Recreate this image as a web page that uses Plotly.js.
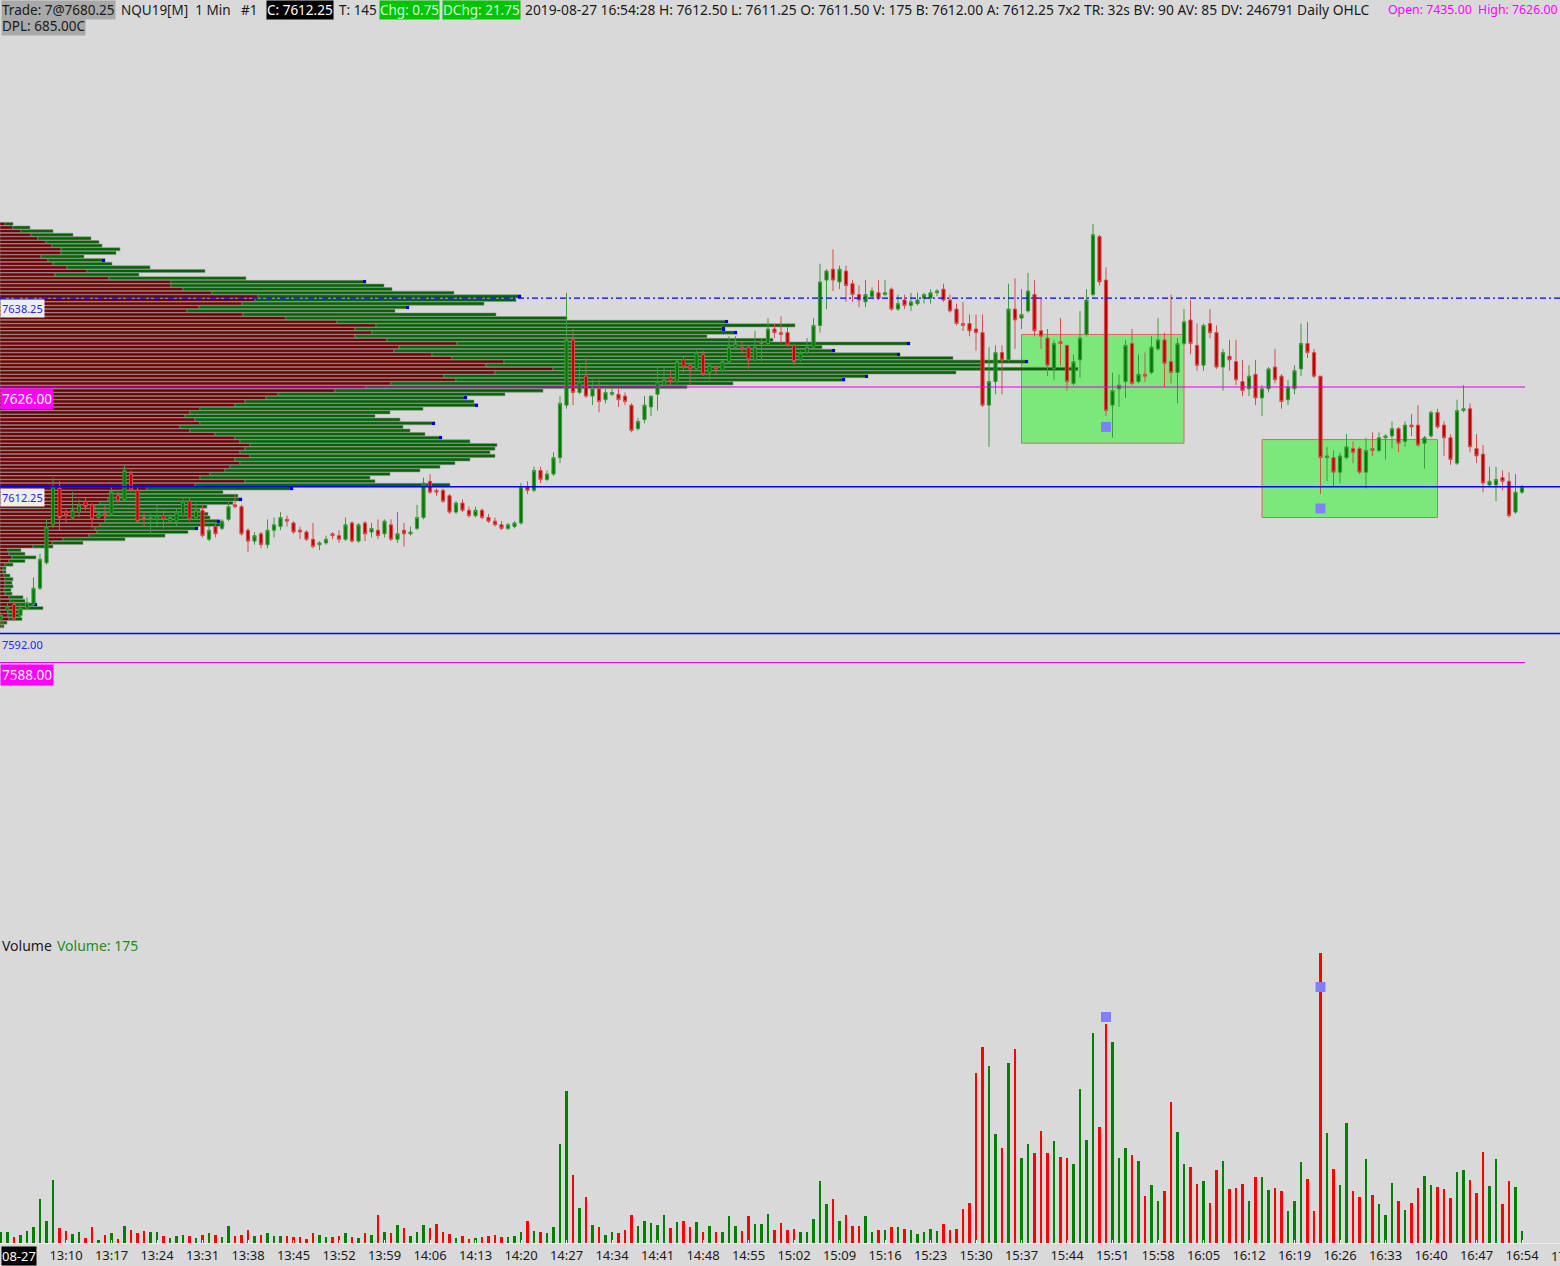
<!DOCTYPE html>
<html>
<head>
<meta charset="utf-8">
<script src="https://cdn.plot.ly/plotly-3.0.1.min.js"></script>
<style>
html,body{margin:0;padding:0;background:#d9d9d9;overflow:hidden;}
#chart{width:1560px;height:1266px;}
</style>
</head>
<body>
<div id="chart"></div>
<script>
// ===================== DATA =====================
const sessionDate = "08-27";
const sessionStart = "13:00";   // time of the first 1-minute bar

const barOpen = [
7594.0,7595.25,7596.0,7594.5,7595.5,7596.0,7598.25,7601.75,7607.0,7612.0,
7608.75,7608.0,7608.75,7610.25,7609.75,7608.0,7608.5,7608.5,7611.0,7610.5,
7614.0,7611.75,7608.0,7607.75,7607.75,7608.25,7607.5,7607.5,7608.25,7610.25,
7608.0,7609.0,7605.0,7606.75,7606.5,7607.75,7609.75,7609.5,7606.25,7604.75,
7605.75,7604.25,7606.25,7606.75,7607.75,7607.25,7606.25,7606.0,7605.0,7604.25,
7604.5,7605.75,7605.5,7605.0,7607.25,7604.75,7607.25,7606.0,7606.25,7605.75,
7607.0,7605.0,7606.25,7605.75,7606.5,7608.0,7613.0,7611.75,7611.75,7611.0,
7608.75,7610.0,7609.0,7608.25,7609.0,7608.0,7607.5,7607.0,7606.5,7606.75,
7607.25,7612.25,7611.75,7614.5,7613.25,7614.0,7616.25,7623.5,7632.5,7625.25,
7627.5,7624.75,7625.75,7624.25,7625.0,7625.0,7624.75,7623.5,7620.25,7621.5,
7623.25,7625.0,7626.25,7627.25,7626.75,7629.75,7629.0,7628.5,7630.5,7628.0,
7628.75,7628.25,7629.5,7631.5,7631.5,7631.5,7629.75,7632.0,7632.0,7634.0,
7633.5,7633.5,7631.75,7629.75,7630.75,7631.5,7634.5,7640.75,7642.25,7640.5,
7642.0,7640.25,7638.75,7637.75,7638.5,7639.0,7638.75,7639.5,7636.75,7638.0,
7637.25,7637.5,7638.25,7638.25,7639.0,7639.5,7638.0,7636.75,7634.75,7634.75,
7634.0,7633.5,7623.5,7626.75,7630.75,7629.75,7636.75,7635.5,7636.5,7638.75,
7633.75,7632.75,7628.5,7632.25,7631.75,7626.5,7629.75,7633.25,7638.75,7646.75,
7640.75,7623.5,7625.75,7626.75,7632.0,7626.75,7627.75,7628.0,7631.25,7632.5,
7629.5,7628.0,7632.0,7635.25,7631.75,7629.0,7634.75,7633.5,7628.75,7630.25,
7629.5,7626.75,7625.75,7627.75,7624.5,7625.75,7628.75,7627.5,7624.25,7625.75,
7628.5,7632.0,7630.75,7627.5,7616.25,7616.25,7614.25,7616.25,7617.5,7617.5,
7614.25,7617.5,7617.25,7619.0,7619.25,7620.25,7618.5,7620.75,7620.75,7618.25,
7619.25,7622.5,7620.75,7619.0,7615.5,7622.75,7623.0,7617.5,7616.75,7612.5,
7612.5,7613.5,7613.0,7608.75,7611.5];
const barHigh = [
7594.75,7596.25,7596.5,7596.0,7597.0,7599.75,7603.0,7607.75,7613.5,7613.0,
7609.25,7611.5,7610.5,7610.75,7610.0,7609.0,7609.75,7612.25,7611.5,7615.25,
7614.5,7612.25,7608.75,7608.5,7609.75,7609.0,7608.5,7609.25,7610.75,7610.75,
7610.0,7609.75,7606.75,7607.25,7607.75,7610.25,7611.25,7609.75,7606.5,7606.0,
7606.0,7607.75,7608.0,7608.75,7608.25,7607.5,7606.75,7606.25,7607.25,7604.75,
7605.5,7606.0,7606.25,7608.0,7607.5,7607.25,7607.5,7607.25,7607.75,7607.75,
7607.75,7608.75,7607.25,7606.75,7609.75,7613.5,7614.0,7612.0,7612.0,7611.25,
7610.25,7610.5,7609.5,7609.5,7609.25,7608.5,7608.0,7607.5,7607.25,7607.5,
7612.75,7613.0,7615.0,7615.0,7614.5,7617.0,7624.75,7639.0,7634.0,7629.25,
7630.0,7627.0,7627.0,7625.75,7626.0,7625.75,7625.25,7623.75,7621.75,7624.75,
7624.75,7628.75,7628.75,7628.25,7629.75,7630.25,7629.25,7631.0,7631.0,7629.25,
7629.0,7629.75,7633.0,7633.0,7632.25,7631.75,7633.75,7632.75,7635.5,7634.75,
7635.75,7634.25,7632.0,7631.0,7632.75,7635.5,7643.0,7642.25,7645.0,7642.75,
7642.75,7640.75,7640.0,7640.75,7639.75,7640.75,7640.75,7639.75,7638.75,7638.75,
7639.0,7639.0,7639.0,7639.5,7639.5,7640.25,7638.75,7637.5,7637.75,7636.0,
7636.0,7636.0,7631.5,7631.75,7631.75,7640.25,7641.0,7639.5,7641.75,7640.75,
7638.25,7634.0,7632.5,7635.5,7631.75,7630.5,7636.5,7639.5,7648.5,7647.0,
7642.5,7628.0,7627.75,7632.5,7634.0,7630.5,7630.75,7633.0,7635.5,7633.5,
7638.75,7632.75,7636.75,7638.0,7634.75,7634.75,7636.75,7634.5,7631.25,7632.5,
7632.5,7629.75,7629.0,7629.75,7626.25,7628.75,7631.25,7627.75,7627.0,7629.0,
7634.75,7635.0,7631.25,7627.5,7617.75,7617.25,7617.0,7619.5,7618.5,7617.75,
7619.0,7619.75,7619.75,7619.5,7621.25,7620.5,7621.25,7622.25,7623.5,7619.25,
7622.75,7623.0,7621.25,7619.5,7624.25,7626.25,7623.75,7619.5,7618.0,7615.0,
7615.0,7614.5,7614.25,7614.0,7612.5];
const barLow = [
7593.0,7594.75,7593.75,7594.25,7595.25,7595.75,7598.0,7601.5,7606.5,7606.25,
7607.25,7607.75,7608.0,7609.0,7606.5,7607.75,7607.75,7608.25,7610.0,7610.25,
7611.5,7607.25,7606.75,7605.75,7606.75,7606.5,7607.25,7606.75,7608.0,7607.5,
7607.75,7605.25,7604.75,7605.25,7606.25,7607.5,7609.25,7605.5,7603.25,7604.25,
7603.75,7603.75,7605.25,7606.25,7606.75,7605.75,7605.0,7604.75,7603.75,7603.5,
7604.25,7605.0,7604.5,7604.75,7604.5,7604.5,7604.75,7605.25,7605.0,7605.25,
7604.75,7604.5,7604.0,7605.5,7606.25,7607.75,7611.25,7611.0,7610.0,7608.5,
7608.5,7608.75,7608.0,7608.0,7607.75,7607.25,7606.75,7606.25,7606.25,7606.5,
7607.0,7611.25,7611.5,7612.75,7613.0,7613.75,7615.5,7623.0,7623.5,7625.0,
7624.5,7623.5,7622.5,7623.75,7624.75,7623.25,7623.5,7619.75,7620.0,7621.0,
7622.0,7622.75,7626.0,7626.25,7626.5,7628.0,7626.25,7628.25,7627.5,7627.0,
7627.75,7628.0,7629.25,7631.25,7630.5,7628.5,7629.5,7629.5,7631.75,7632.75,
7632.0,7631.5,7629.0,7629.5,7630.5,7631.25,7633.5,7636.75,7639.25,7639.5,
7637.75,7637.75,7637.0,7637.0,7638.25,7638.0,7638.5,7636.5,7636.5,7636.75,
7636.5,7637.25,7637.5,7637.5,7638.5,7637.75,7636.25,7634.5,7633.75,7633.0,
7631.0,7623.25,7617.75,7625.0,7625.0,7629.5,7631.25,7634.0,7636.25,7633.0,
7631.25,7627.5,7627.0,7629.0,7625.5,7626.25,7627.25,7633.0,7638.5,7640.0,
7622.0,7619.0,7623.25,7624.5,7626.25,7626.5,7626.75,7627.75,7631.0,7626.0,
7626.5,7623.75,7631.75,7630.5,7628.25,7628.25,7632.75,7628.5,7625.5,7628.25,
7626.25,7624.75,7624.75,7623.5,7622.0,7625.25,7626.5,7623.0,7623.5,7625.0,
7627.5,7630.0,7627.25,7611.25,7613.0,7612.25,7612.75,7616.0,7615.5,7614.0,
7612.0,7616.5,7617.0,7616.0,7617.5,7617.0,7617.75,7619.25,7617.75,7614.75,
7619.0,7620.25,7616.5,7615.25,7615.25,7622.5,7617.0,7615.5,7611.5,7612.25,
7610.25,7611.75,7608.0,7608.5,7611.25];
const barClose = [
7594.5,7595.75,7594.0,7595.5,7596.25,7598.25,7602.25,7606.75,7612.25,7608.0,
7608.25,7609.0,7609.75,7609.5,7607.75,7608.5,7608.25,7611.5,7610.25,7614.5,
7611.75,7607.5,7607.75,7608.0,7608.25,7607.75,7608.0,7608.75,7610.25,7607.75,
7609.0,7605.5,7606.25,7605.75,7607.5,7609.5,7609.5,7605.75,7604.75,7605.5,
7604.25,7606.25,7607.0,7608.0,7607.5,7606.0,7606.0,7605.0,7604.0,7604.5,
7605.0,7605.5,7605.0,7607.0,7604.75,7607.0,7605.75,7606.5,7605.5,7607.5,
7605.0,7605.75,7605.75,7606.0,7608.0,7612.75,7611.5,7611.5,7610.25,7608.75,
7610.0,7609.0,7608.25,7609.0,7608.0,7607.5,7607.0,7606.5,7607.0,7607.25,
7612.25,7611.75,7614.5,7613.25,7614.0,7616.25,7623.75,7632.5,7625.25,7626.75,
7624.75,7625.75,7624.0,7625.25,7625.25,7624.25,7624.0,7620.0,7621.25,7623.5,
7624.75,7626.75,7627.0,7626.75,7629.5,7628.75,7628.5,7630.75,7627.75,7629.0,
7628.5,7629.5,7631.5,7632.0,7631.25,7629.75,7631.5,7632.25,7634.0,7633.5,
7633.25,7631.75,7629.5,7630.75,7631.5,7634.5,7640.5,7642.0,7640.75,7642.25,
7640.0,7638.75,7638.0,7638.75,7639.25,7638.25,7639.0,7636.75,7637.5,7637.25,
7637.75,7638.0,7638.75,7639.0,7639.25,7638.0,7636.5,7634.75,7634.5,7633.75,
7633.5,7623.5,7626.75,7630.75,7629.75,7636.75,7635.25,7636.0,7639.25,7633.75,
7633.0,7629.0,7632.0,7632.0,7626.75,7629.5,7632.75,7638.0,7647.0,7640.5,
7622.75,7625.5,7626.25,7631.75,7626.5,7627.75,7627.5,7631.5,7632.5,7629.25,
7628.0,7632.0,7635.0,7632.0,7629.0,7634.5,7633.5,7628.75,7630.75,7629.75,
7627.0,7625.5,7627.5,7624.5,7625.75,7628.5,7627.0,7624.0,7626.0,7628.25,
7632.0,7630.75,7627.5,7616.25,7616.5,7614.25,7616.5,7617.75,7617.0,7614.25,
7617.25,7617.25,7619.0,7619.25,7620.25,7618.25,7620.75,7620.5,7618.0,7619.0,
7622.5,7620.5,7619.0,7616.0,7622.75,7623.0,7617.75,7616.5,7612.75,7613.0,
7613.25,7613.0,7608.25,7611.5,7612.25];
const barVolume = [
165,165,85,120,180,240,655,325,945,225,
180,135,165,75,235,45,120,150,60,255,
195,150,175,165,165,105,75,100,120,105,
75,120,150,115,85,255,105,120,190,100,
120,150,105,100,105,85,90,60,150,120,
90,85,105,145,90,75,145,120,420,160,
150,270,220,100,165,270,225,285,160,135,
75,105,55,75,85,105,120,85,85,105,
165,330,180,165,145,235,1480,2280,1015,525,
695,265,240,120,160,150,195,420,255,330,
295,270,420,225,315,325,235,315,165,250,
160,165,405,255,180,405,280,285,435,190,
295,190,205,165,165,355,925,585,660,325,
415,250,250,405,160,195,195,240,235,210,
195,135,165,205,175,280,195,205,510,595,
2545,2940,2655,1635,1420,2695,2905,1275,1485,1345,
1680,1345,1525,1285,1270,1185,2305,1545,3150,1735,
3285,3010,1275,1425,1320,1230,705,870,625,775,
2115,1665,1185,1140,885,925,595,1095,1230,810,
825,885,630,985,990,795,820,780,475,625,
1210,960,480,4350,1650,1105,865,1795,775,685,
1255,720,580,415,900,625,490,595,820,1000,
870,835,810,675,1065,1095,945,745,1360,850,
1260,585,930,840,175];

const timeTickLabels = ["13:10","13:17","13:24","13:31","13:38","13:45","13:52","13:59",
"14:06","14:13","14:20","14:27","14:34","14:41","14:48","14:55","15:02","15:09","15:16",
"15:23","15:30","15:37","15:44","15:51","15:58","16:05","16:12","16:19","16:26","16:33",
"16:40","16:47","16:54","17:01"];

// volume-at-price profile, rows of 0.5 point from the top price downwards
const profileTopPrice = 7648.5;
const profileRowSize = 0.5;
const profileSellVolume = [
5,13,21,31,38,46,52,61,61,41,
48,53,67,87,55,109,171,171,183,212,
258,255,242,199,187,243,286,337,376,355,
372,355,387,457,399,394,432,452,504,486,
553,495,444,456,391,366,335,278,266,245,
235,200,190,185,195,200,180,190,215,235,
240,250,245,240,250,235,240,230,225,210,
200,245,195,147,110,120,108,100,95,95,
100,105,105,100,95,97,89,63,52,33,
8,9,12,9,5,3,3,4,5,5,
5,4,5,9,10,14,16,8,8,9,
3,2];
const profileBuyVolume = [
8,17,32,42,53,53,50,59,55,43,
57,59,83,118,84,137,195,213,209,242,
263,261,242,210,208,253,281,391,419,370,
365,352,386,453,423,441,468,501,524,496,
525,461,424,389,342,321,208,227,201,229,
243,223,200,190,205,235,223,220,210,207,
230,247,250,250,245,235,215,210,195,180,
170,130,255,146,113,118,134,133,112,105,
108,105,115,124,103,91,76,62,31,20,
13,16,24,16,8,3,3,6,8,7,
8,7,7,14,15,23,27,12,13,13,
4,2];
const profileMarkedPrices = [7643.5,7640.5,7638.5,7637.0,7635.0,7634.0,7633.5,7632.0,7631.0,
7630.5,7629.5,7627.5,7627.0,7624.5,7623.5,7621.0,7619.0,7612.0,7610.5,7607.5,7606.5,7596.0];

const levelPrices = [7638.25, 7626.00, 7612.25, 7592.00, 7588.00];

const zoneStartTimes = ["15:37", "16:14"];
const zoneEndTimes   = ["16:02", "16:41"];
const zoneLowPrices  = [7618.25, 7608.00];
const zoneHighPrices = [7633.25, 7618.75];

const signalTimes   = ["15:50", "16:23"];
const signalPrices  = [7620.5, 7609.25];
const signalVolumes = [3390, 3840];

// ===================== GEOMETRY / STYLE =====================
const W = 1560, H = 1266;
const FONT = "Noto Sans, DejaVu Sans, sans-serif";
const toMin = t => { const p = t.split(':').map(Number); return p[0] * 60 + p[1]; };
const startMin = toMin(sessionStart);
const minuteOf = t => toMin(t) - startMin;
const barX = barOpen.map((_, i) => i);

const PX_PER_MIN = 6.5, MIN0_PX = 1;
const timeRange = [-MIN0_PX / PX_PER_MIN, (W - MIN0_PX) / PX_PER_MIN];
const minToPx = m => MIN0_PX + m * PX_PER_MIN;

const PRICE_BOTTOM_PX = 930, CAL_PRICE = 7612.25, CAL_PX = 486.7, PX_PER_PT = 7.25;
const priceRange = [CAL_PRICE - (PRICE_BOTTOM_PX - CAL_PX) / PX_PER_PT, CAL_PRICE + CAL_PX / PX_PER_PT];

const VOL_TOP_PX = 935, VOL_BASE_PX = 1243, VOL_PER_PX = 15;
const volRange = [0, (VOL_BASE_PX - VOL_TOP_PX) * VOL_PER_PX];

const profilePrices = profileSellVolume.map((_, k) => profileTopPrice - k * profileRowSize);
const profileTotal = profileSellVolume.map((s, k) => s + profileBuyVolume[k]);
const markRow = profileMarkedPrices.map(p => Math.round((profileTopPrice - p) / profileRowSize));
const MARK_W = 3;
const ROW_H = 0.42;

const up = barClose.map((c, i) => c >= barOpen[i]);

const traces = [
  {type:'bar', orientation:'h', xaxis:'x', yaxis:'y', y:profilePrices, x:profileSellVolume, base:0,
   width:ROW_H, marker:{color:'#6e0000', line:{color:'#8f8f8f', width:0.6}}, hoverinfo:'skip'},
  {type:'bar', orientation:'h', xaxis:'x', yaxis:'y', y:profilePrices, x:profileBuyVolume, base:profileSellVolume,
   width:ROW_H, marker:{color:'#006400', line:{color:'#8f8f8f', width:0.6}}, hoverinfo:'skip'},
  {type:'bar', orientation:'h', xaxis:'x', yaxis:'y', y:profileMarkedPrices, x:profileMarkedPrices.map(() => MARK_W),
   base:markRow.map(k => profileTotal[k] - MARK_W), width:ROW_H, marker:{color:'#0000d0'}, hoverinfo:'skip'},
  {type:'candlestick', xaxis:'x2', yaxis:'y', x:barX, open:barOpen, high:barHigh, low:barLow, close:barClose,
   whiskerwidth:0,
   increasing:{line:{color:'#3f9a3f', width:1}, fillcolor:'#007a00'},
   decreasing:{line:{color:'#d25050', width:1}, fillcolor:'#c00000'},
   hoverinfo:'skip'},
  {type:'scatter', mode:'markers', xaxis:'x2', yaxis:'y', x:signalTimes.map(minuteOf), y:signalPrices,
   marker:{symbol:'square', size:10, color:'#8080ff'}, hoverinfo:'skip'},
  {type:'bar', xaxis:'x3', yaxis:'y3', x:barX, y:barVolume, width:0.32,
   marker:{color:up.map(u => u ? '#008000' : '#ff0000'), line:{width:0}}, hoverinfo:'skip'},
  {type:'scatter', mode:'markers', xaxis:'x3', yaxis:'y3', x:signalTimes.map(minuteOf), y:signalVolumes,
   marker:{symbol:'square', size:10, color:'#8080ff'}, hoverinfo:'skip'}
];

// horizontal price levels
const levelStyle = [
  {color:'#0000ff', dash:'6px,3px,2px,3px', width:1.3, end:1},
  {color:'#e000e0', dash:'solid', width:1, end:1525 / W},
  {color:'#0000ff', dash:'solid', width:1.5, end:1},
  {color:'#0000ff', dash:'solid', width:1.5, end:1},
  {color:'#e000e0', dash:'solid', width:1, end:1525 / W}
];
const levelLabelStyle = [
  {bg:'#efefef', color:'#2424ff', size:11, left:0},
  {bg:'#ff00ff', color:'#ffffff', size:13.5, left:0},
  {bg:'#efefef', color:'#2424ff', size:11, left:0},
  {bg:'rgba(0,0,0,0)', color:'#2424ff', size:11, left:0},
  {bg:'#ff00ff', color:'#ffffff', size:13.5, left:0}
];

const shapes = [];
zoneStartTimes.forEach((t, k) => shapes.push({
  type:'rect', xref:'x2', yref:'y', x0:minuteOf(t), x1:minuteOf(zoneEndTimes[k]),
  y0:zoneLowPrices[k], y1:zoneHighPrices[k], fillcolor:'#7ce87c', line:{color:'#e06464', width:1}, layer:'below'}));
levelPrices.forEach((p, k) => shapes.push({
  type:'line', xref:'paper', yref:'y', x0:0, x1:levelStyle[k].end, y0:p, y1:p,
  line:{color:levelStyle[k].color, width:levelStyle[k].width, dash:levelStyle[k].dash}, layer:'above'}));

const annotations = [];
const txt = (text, xpx, ypx, o) => annotations.push(Object.assign({
  text, xref:'paper', yref:'paper', x:xpx / W, y:1 - ypx / H, xanchor:'left', yanchor:'middle',
  showarrow:false, borderpad:0, font:{family:FONT, size:14, color:'#1a1a1a'}}, o || {}));

levelPrices.forEach((p, k) => {
  const s = levelLabelStyle[k];
  annotations.push({text:p.toFixed(2), xref:'paper', yref:'y', x:s.left / W, y:p, xanchor:'left', yanchor:'top',
    yshift:-1, showarrow:false, bgcolor:s.bg, borderpad:1, font:{family:FONT, size:s.size, color:s.color}});
});

// header (values of the last bar)
const L = barClose.length - 1;
const nb = '\u00a0';
const HY = 9.5;
const hf = c => ({family:FONT, size:13.5, color:c});
txt('Trade: 7@7680.25', 1, HY, {bgcolor:'#a9a9a9', font:hf('#1a1a1a')});
txt('NQU19[M]' + nb + nb + '1 Min' + nb + nb + nb + '#1', 120, HY, {font:hf('#1a1a1a')});
txt('C: ' + barClose[L].toFixed(2), 266, HY, {bgcolor:'#000000', font:hf('#ffffff')});
txt('T: 145', 338, HY, {font:hf('#1a1a1a')});
txt('Chg: 0.75', 379, HY, {bgcolor:'#00c400', font:hf('#d4ffd4')});
txt('DChg: 21.75', 442, HY, {bgcolor:'#00c400', font:hf('#d4ffd4')});
txt('2019-08-27 16:54:28 H: ' + barHigh[L].toFixed(2) + ' L: ' + barLow[L].toFixed(2) + ' O: ' + barOpen[L].toFixed(2) +
    ' V: ' + barVolume[L] + ' B: 7612.00 A: 7612.25 7x2 TR: 32s BV: 90 AV: 85 DV: 246791 Daily OHLC', 524, HY,
    {font:{family:FONT, size:13.8, color:'#1a1a1a'}});
txt('Open: 7435.00' + nb + nb + 'High: ' + levelPrices[1].toFixed(2), 1387, HY, {font:{family:FONT, size:12.3, color:'#ff00ff'}});
txt('DPL: 685.00C', 1, 26, {bgcolor:'#a9a9a9', font:hf('#1a1a1a')});

// volume pane title
txt('Volume', 1, 945);
txt('Volume: ' + barVolume[L], 56, 945, {font:{family:FONT, size:14, color:'#1f8a1f'}});

// date label at the left end of the time axis and the clipped last time label
txt(sessionDate, 1, 1256, {bgcolor:'#000000', font:{family:FONT, size:13, color:'#ffffff'}});
const lastTick = timeTickLabels[timeTickLabels.length - 1];
txt(lastTick, minToPx(minuteOf(lastTick)), 1256, {xanchor:'center', font:{family:FONT, size:13, color:'#1a1a1a'}});

const layout = {
  width:W, height:H, margin:{l:0, r:0, t:0, b:0, pad:0},
  paper_bgcolor:'#d9d9d9', plot_bgcolor:'#d9d9d9', showlegend:false,
  barmode:'overlay', bargap:0,
  xaxis:{domain:[0, 1], anchor:'y', range:[0, W], visible:false, fixedrange:true, rangeslider:{visible:false}},
  xaxis2:{overlaying:'x', anchor:'y', range:timeRange, visible:false, rangeslider:{visible:false}},
  xaxis3:{domain:[0, 1], anchor:'y3', range:timeRange, rangeslider:{visible:false},
    tickmode:'array', tickvals:timeTickLabels.map(minuteOf), ticktext:timeTickLabels,
    showgrid:false, zeroline:false, showline:true, linecolor:'#ededed', linewidth:1,
    ticks:'inside', ticklen:3, tickcolor:'#f4f4f4', tickfont:{family:FONT, size:13, color:'#1a1a1a'}},
  yaxis:{domain:[1 - PRICE_BOTTOM_PX / H, 1], range:priceRange, visible:false},
  yaxis3:{domain:[1 - VOL_BASE_PX / H, 1 - VOL_TOP_PX / H], range:volRange, visible:false},
  shapes, annotations
};

Plotly.newPlot('chart', traces, layout, {staticPlot:true, displayModeBar:false});
</script>
</body>
</html>
